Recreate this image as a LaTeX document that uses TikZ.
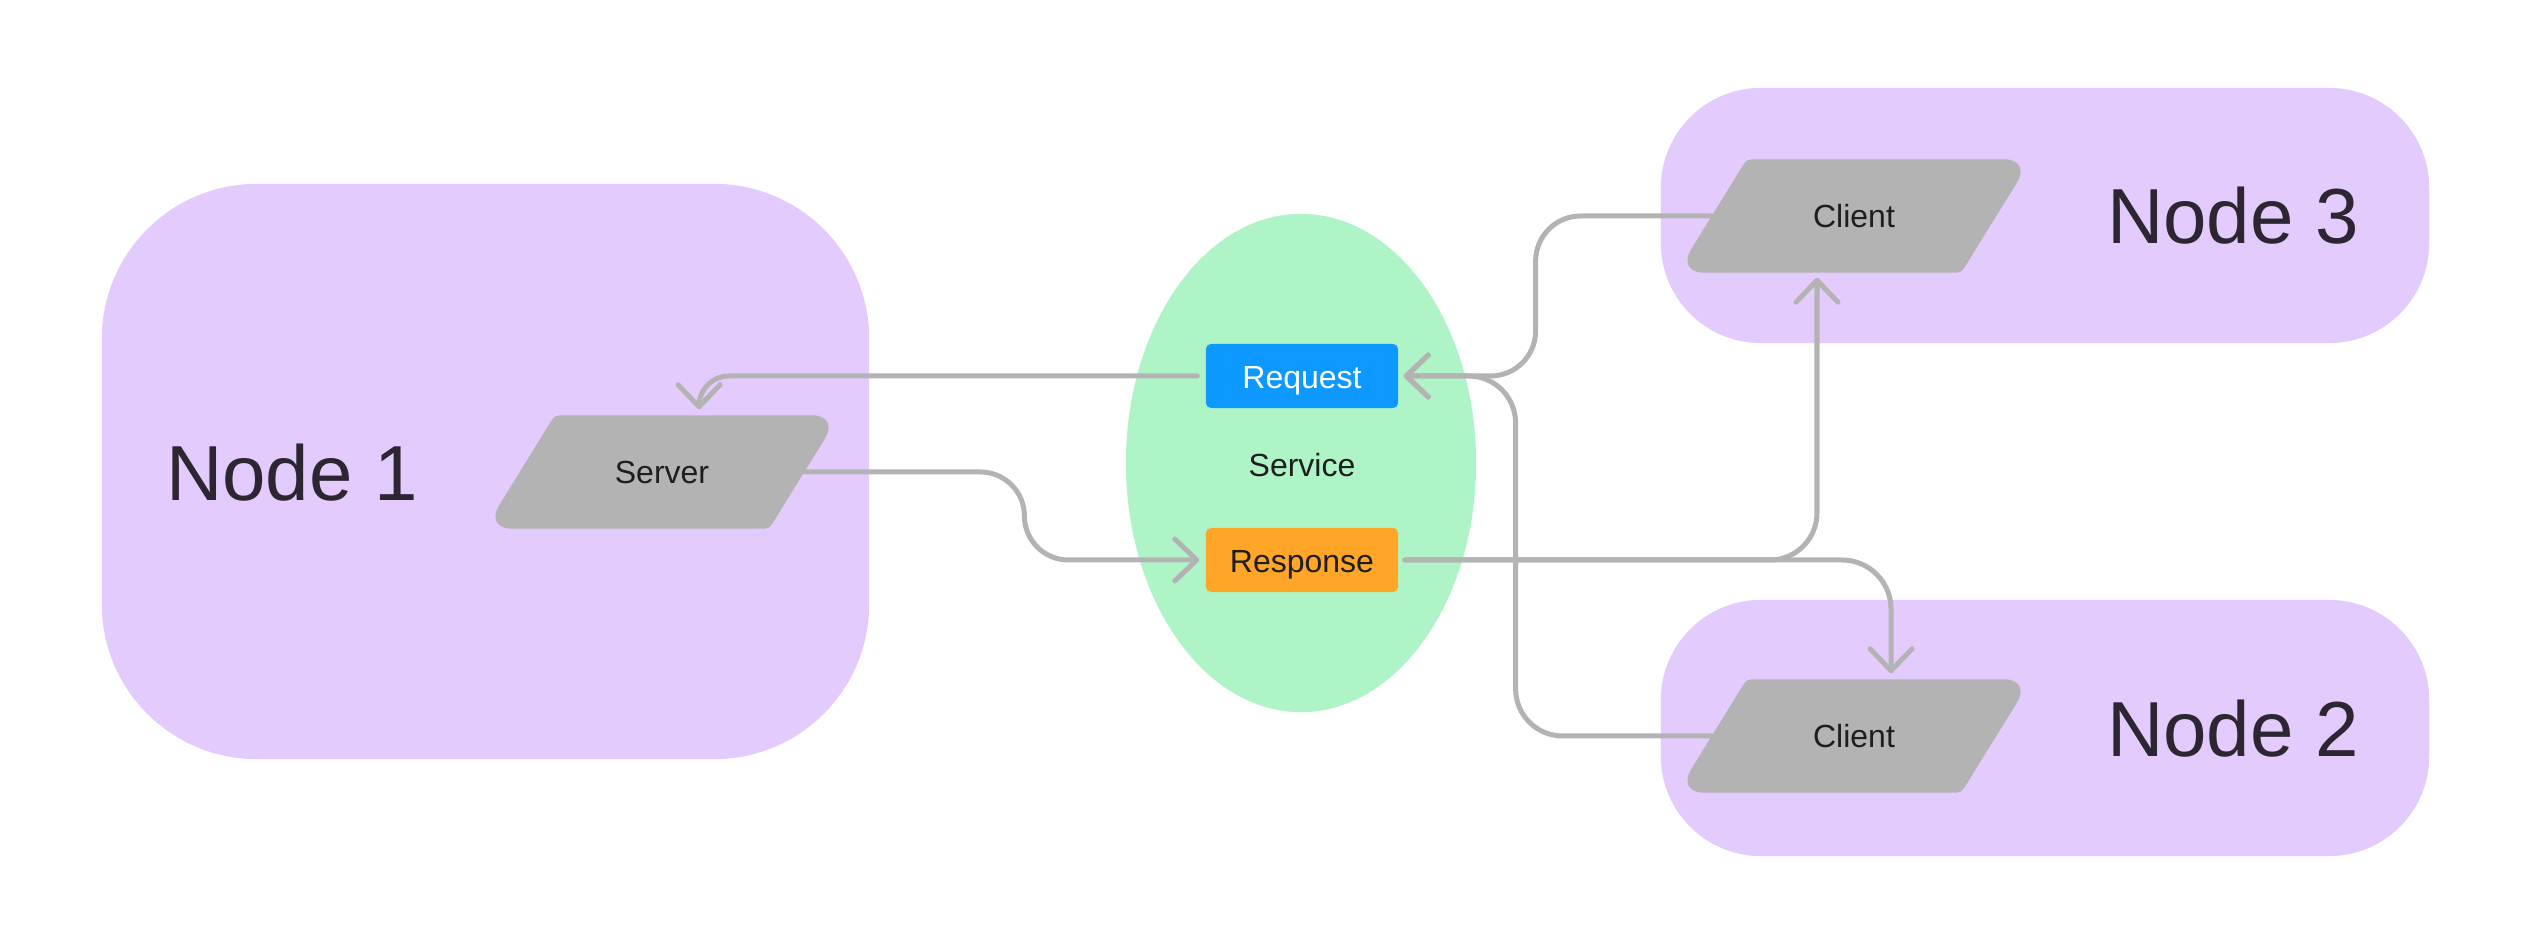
\documentclass[tikz,border=0pt]{standalone}
\usepackage{fontspec}
\setmainfont{Liberation Sans}
\usetikzlibrary{shapes.geometric,arrows.meta,calc}
\definecolor{hostpurple}{HTML}{E3CCFD}
\definecolor{svcgreen}{HTML}{AFF4C6}
\definecolor{reqblue}{HTML}{0D99FF}
\definecolor{resporange}{HTML}{FFA629}
\definecolor{shapegray}{HTML}{B3B3B3}
\definecolor{linegray}{HTML}{B3B3B3}
\definecolor{labeldark}{HTML}{2C2632}
\definecolor{textdark}{HTML}{1E1E1E}
\pgfdeclarelayer{bglayer}
\pgfdeclarelayer{midlayer}
\pgfsetlayers{bglayer,midlayer,main}
\begin{document}
\begin{tikzpicture}[x=0.01cm,y=-0.01cm,
  hostbox/.style={rectangle, fill=hostpurple, inner sep=0pt},
  hostlabel/.style={inner sep=0pt, text=labeldark, font=\fontsize{22.2pt}{26pt}\selectfont},
  smalltext/.style={font=\fontsize{9.1pt}{11pt}\selectfont, text=textdark},
  para/.style={rectangle, inner sep=0pt, minimum width=2.83cm, minimum height=1.12cm, smalltext},
  msg/.style={rectangle, rounded corners=0.05cm, inner sep=0pt, text height=0.72em, text depth=0pt,
    minimum width=1.92cm, minimum height=0.64cm, smalltext},
  conn/.style={draw=linegray, line width=0.05cm, line cap=round, line join=round,
    -{Straight Barb[length=0.22cm,width=0.42cm,round]}}
]
\useasboundingbox (0,0) rectangle (2548,931);

% endpoints (text nodes)
\node[para] (srv) at (662,472) {Server};
\node[para] (c3) at (1854,216) {Client};
\node[para] (c2) at (1854,736) {Client};

\begin{pgfonlayer}{bglayer}
\fill[white] (0,0) rectangle (2548,931);
% host boxes
\node[hostbox, minimum width=7.67cm, minimum height=5.75cm, rounded corners=1.55cm] (n1) at (485.5,471.5) {};
\node[hostbox, minimum width=7.68cm, minimum height=2.55cm, rounded corners=1cm] (n3) at (2045,215.5) {};
\node[hostbox, minimum width=7.68cm, minimum height=2.56cm, rounded corners=1cm] (n2) at (2045,728) {};
% service
\node[ellipse, fill=svcgreen, inner sep=0pt, minimum width=3.5cm, minimum height=4.98cm] (svc) at (1301,463) {};
\end{pgfonlayer}

\begin{pgfonlayer}{midlayer}
\foreach \p in {srv,c3,c2}{
  \fill[shapegray] (\p.south)
    [rounded corners=0.27cm] -- ([xshift=-0.35cm]\p.south west)
    [rounded corners=0.045cm] -- ([xshift=0.35cm]\p.north west)
    [rounded corners=0.27cm] -- ([xshift=0.35cm]\p.north east)
    [rounded corners=0.045cm] -- ([xshift=-0.35cm]\p.south east)
    -- cycle;
}
\end{pgfonlayer}

\node[hostlabel] (n1l) at (292,473) {Node 1};
\node[hostlabel] (n3l) at (2233,216) {Node 3};
\node[hostlabel] (n2l) at (2233,729) {Node 2};
\node[smalltext] (svcl) at (1302,465) {Service};
\node[msg, fill=reqblue, text=white] (req) at (1302,376) {Request};
\node[msg, fill=resporange, text=textdark] (resp) at (1302,560) {Response};

% connectors
\draw[conn, rounded corners=0.3cm] ([xshift=-0.08cm]req.west) -| ([xshift=0.37cm,yshift=0.06cm]srv.north);
\draw[conn, rounded corners=0.44cm] (srv.east) -- ++(2.2cm,0) |- ([xshift=-0.06cm]resp.west);
\draw[conn, rounded corners=0.45cm] (c3.west) -- ++(-1.76cm,0) |- ([xshift=0.05cm]req.east);
\draw[conn, rounded corners=0.47cm] (c2.west) -- ++(-1.96cm,0) |- ([xshift=0.05cm]req.east);
\draw[conn, rounded corners=0.47cm] ([xshift=0.06cm]resp.east) -| ([xshift=-0.37cm,yshift=-0.05cm]c3.south);
\draw[conn, rounded corners=0.49cm] ([xshift=0.06cm]resp.east) -| ([xshift=0.37cm,yshift=0.06cm]c2.north);
\end{tikzpicture}
\end{document}
